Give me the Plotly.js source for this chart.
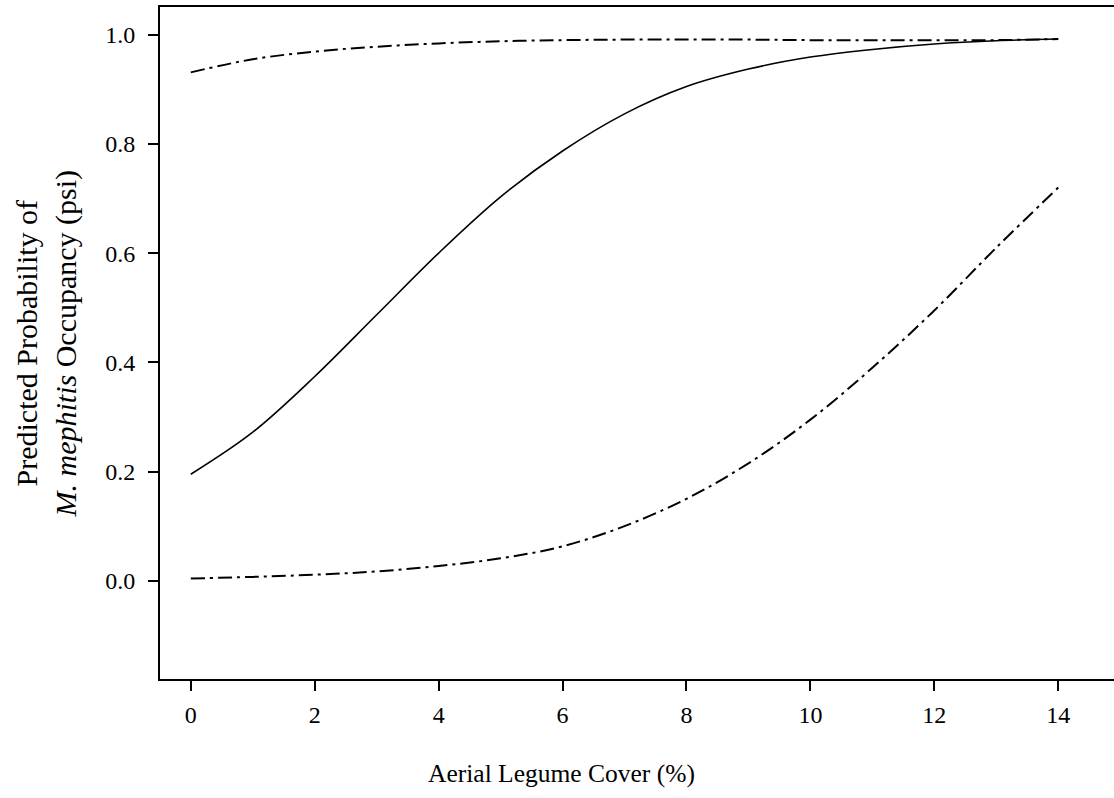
<!DOCTYPE html>
<html>
<head>
<meta charset="utf-8">
<script src="https://cdn.plot.ly/plotly-3.0.1.min.js"></script>
<style>html,body{margin:0;padding:0;background:#fff;overflow:hidden;}</style>
</head>
<body>
<div id="chart" style="width:1114px;height:798px;"></div>
<script>
const cover = [0,1,2,3,4,5,6,7,8,9,10,11,12,13,14];
const psiMean = [0.195,0.272,0.374,0.487,0.600,0.703,0.787,0.855,0.905,0.937,0.959,0.973,0.983,0.989,0.992];
const psiUpper = [0.931,0.955,0.969,0.978,0.984,0.988,0.990,0.991,0.991,0.991,0.990,0.990,0.990,0.990,0.992];
const psiLower = [0.004,0.007,0.011,0.017,0.027,0.041,0.063,0.10,0.15,0.215,0.295,0.39,0.495,0.61,0.72];
const xTicks = [0,2,4,6,8,10,12,14];
const yTicks = [0.0,0.2,0.4,0.6,0.8,1.0];

const dashStyle = '14px,5px,3px,5px';
const traces = [
  {x: cover, y: psiUpper, mode:'lines', line:{color:'#000', width:2, dash:dashStyle, shape:'spline'}},
  {x: cover, y: psiMean, mode:'lines', line:{color:'#000', width:1.6, shape:'spline'}},
  {x: cover, y: psiLower, mode:'lines', line:{color:'#000', width:2, dash:dashStyle, shape:'spline'}}
];
const font = {family:'"Liberation Serif", "Times New Roman", serif', color:'#000'};
const layout = {
  width:1114, height:798,
  margin:{l:159.5, r:0, t:7, b:119},
  paper_bgcolor:'#fff', plot_bgcolor:'#fff',
  showlegend:false,
  font: Object.assign({size:24}, font),
  xaxis:{
    range:[-0.497, 14.9], tickvals:xTicks, ticktext:xTicks.map(String),
    showgrid:false, zeroline:false, showline:true, linecolor:'#000', linewidth:2,
    mirror:true, ticks:'outside', ticklen:10, tickwidth:2, tickcolor:'#000',
    ticklabelstandoff:3,
    tickfont:Object.assign({size:24}, font)
  },
  yaxis:{
    range:[-0.18, 1.0507], tickvals:yTicks, ticktext:yTicks.map(v=>v.toFixed(1)),
    showgrid:false, zeroline:false, showline:true, linecolor:'#000', linewidth:2,
    mirror:false, ticks:'outside', ticklen:10, tickwidth:2, tickcolor:'#000',
    ticklabelstandoff:8,
    tickfont:Object.assign({size:24}, font)
  },
  annotations:[
    {xref:'paper', yref:'paper', x:0.4206, y:-0.14, xanchor:'center', yanchor:'middle',
     text:'Aerial Legume Cover (%)', showarrow:false, font:Object.assign({size:25.5}, font)},
    {xref:'paper', yref:'paper', x:-0.119, y:0.5, xanchor:'center', yanchor:'middle',
     textangle:-90, text:'Predicted Probability of<br><i>M. mephitis</i> Occupancy (psi)',
     showarrow:false, font:Object.assign({size:30}, font)}
  ]
};
Plotly.newPlot('chart', traces, layout, {displayModeBar:false, staticPlot:true});
</script>
</body>
</html>
